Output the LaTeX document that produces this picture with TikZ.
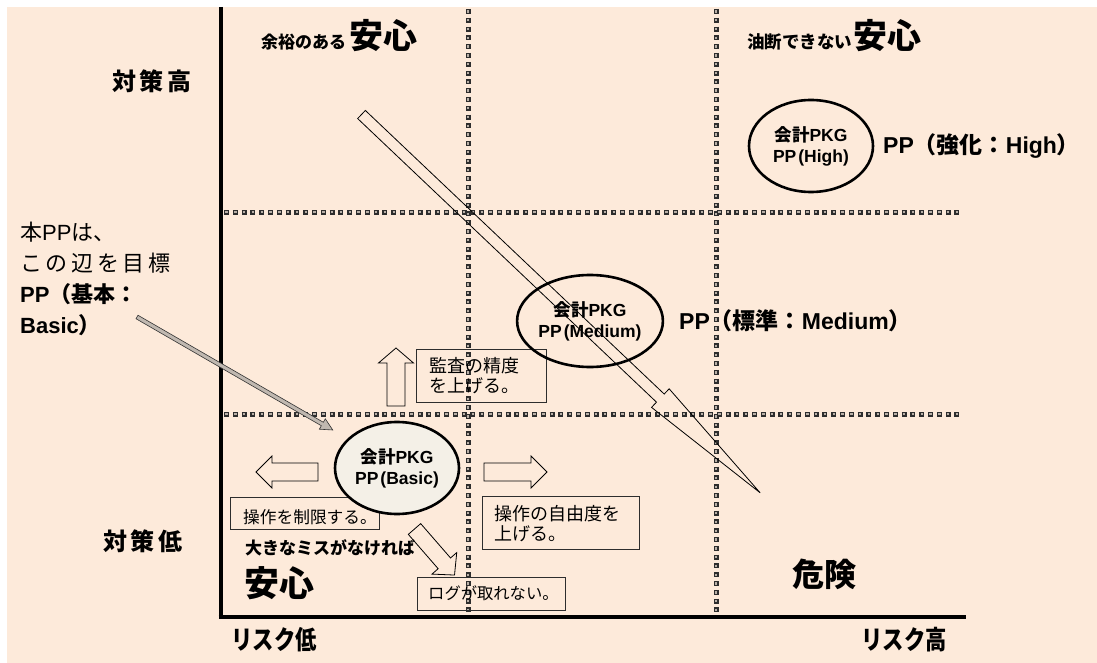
\documentclass[tikz,border=0pt]{standalone}
\usepackage{fontspec}
\setmainfont{Noto Sans CJK JP}
\newfontfamily\lat{Liberation Sans}
\usetikzlibrary{shapes.geometric}
\definecolor{bgpeach}{RGB}{253,234,218}
\definecolor{ellfill}{RGB}{244,240,231}
\definecolor{dotdark}{RGB}{45,45,45}
\definecolor{dotin}{RGB}{185,176,168}
\definecolor{arrgray}{RGB}{192,184,176}
\definecolor{framecol}{RGB}{45,45,45}
\pgfdeclarelayer{back}\pgfdeclarelayer{frames}\pgfsetlayers{back,frames,main}
\newcommand\fsz[1]{\fontsize{#1}{#1}\selectfont}
% block arrow: x y angle length headlen headhalf shafthalf style
\newcommand\blkarrow[8]{%
  \begin{scope}[shift={(#1,#2)},rotate=#3]
    \draw[#8] (0,-#7) -- ({#4-#5},-#7) -- ({#4-#5},-#6) -- (#4,0) -- ({#4-#5},#6) -- ({#4-#5},#7) -- (0,#7) -- cycle;
  \end{scope}}
\begin{document}
\begin{tikzpicture}[x=1pt,y=-1pt,
  gridout/.style={line width=5pt, dotdark, dash pattern=on 5pt off 3.8pt},
  gridin/.style={line width=2.4pt, dotin, dash pattern=on 2.4pt off 6.4pt, dash phase=7.5pt},
  axisline/.style={line width=4pt, black},
  ell/.style={ellipse, draw, line width=2.6pt, minimum width=124pt, minimum height=92pt, inner sep=0pt, align=center, font=\bfseries\fontsize{17.5}{21}\selectfont},
  frame/.style={draw=framecol, line width=0.9pt, inner sep=0pt},
  boxtxt/.style={anchor=west, inner sep=0pt, align=left},
  lbl/.style={inner sep=0pt, font=\bfseries},
  blockarr/.style={draw=black, line width=0.8pt, line join=miter},
]
\useasboundingbox (0,0) rectangle (1097,663);
\begin{pgfonlayer}{back}
  \fill[bgpeach] (7,7) rectangle (1097,663);
  % grid
  \foreach \gx in {468,716} {
    \draw[gridout] (\gx,9) -- (\gx,616);
    \draw[gridin] (\gx,9) -- (\gx,616);
  }
  \foreach \gy in {212,414} {
    \draw[gridout] (224,\gy) -- (962,\gy);
    \draw[gridin] (224,\gy) -- (962,\gy);
  }
\end{pgfonlayer}
% axes
\draw[axisline] (220.5,7) -- (220.5,619);
\draw[axisline] (218.5,617) -- (966,617);

% box frames
\begin{pgfonlayer}{frames}
  \node[frame, minimum width=130pt, minimum height=53pt] (f1) at (481,375.5) {};
  \node[frame, minimum width=149pt, minimum height=32pt] (f2) at (304.5,513) {};
  \node[frame, minimum width=157pt, minimum height=53pt] (f3) at (560.5,522.5) {};
  \node[frame, minimum width=148pt, minimum height=33pt] (f4) at (491,593.5) {};
\end{pgfonlayer}

% ellipses
\node[ell] (eh) at (811,146) {会計{\lat PKG}\\{\lat PP\kern2pt(High)}};
\node[ell] (em) at (590,321) {会計{\lat PKG}\\{\lat PP\kern2pt(Medium)}};
\node[ell, fill=ellfill] (eb) at (397,468) {会計{\lat PKG}\\{\lat PP\kern2pt(Basic)}};

% box texts
\node[boxtxt, font=\fontsize{18}{20}\selectfont] (t1) at (429,375.5) {監査の精度\\を上げる。};
\node[boxtxt, font=\fontsize{16.7}{20}\selectfont] (t2) at (243,517) {操作を制限する。};
\node[boxtxt, font=\fontsize{18}{20}\selectfont] (t3) at (494,524) {操作の自由度を\\上げる。};
\node[boxtxt, font=\fontsize{16.3}{20}\selectfont] (t4) at (428,593) {ログが取れない。};

% labels
\node[lbl, font=\bfseries\fsz{24}] (hi) at (152,81) {対\,策\,高};
\node[lbl, font=\bfseries\fsz{24}] (lo) at (143,541) {対\,策\,低};
\node[lbl, font=\bfseries\fsz{26}, xscale=0.82] (rl) at (274,640) {リスク低};
\node[lbl, font=\bfseries\fsz{26}, xscale=0.82] (rh) at (904,640) {リスク高};
\node[lbl, anchor=base west] (q1) at (261,49) {\fsz{17}余裕のある\kern3pt\fsz{34}安心};
\node[lbl, anchor=base west] (q2) at (747,49) {\fsz{17.5}油断できない\kern1pt\fsz{34}安心};
\node[lbl, anchor=west, font=\bfseries\fsz{23}] (pph) at (883,146) {{\lat PP}（強化：{\lat High}）};
\node[lbl, anchor=west, font=\bfseries\fsz{23}] (ppm) at (679,321) {{\lat PP}（標準：{\lat Medium}）};
\node[lbl, anchor=base west, font=\bfseries\fsz{17}] (q3) at (245,554.5) {大きなミスがなければ};
\node[lbl, anchor=base west, font=\bfseries\fsz{35}] (q4) at (244,596) {安心};
\node[lbl, font=\bfseries\fsz{32}] (q5) at (824,574) {危険};
\node[inner sep=0pt, anchor=north west, align=left, font=\fontsize{22}{31}\selectfont] (goal) at (20,222)
  {本{\lat PP}は、\\こ\,の\,辺\,を\,目\,標\\\textbf{{\lat PP}（基本：}\\\textbf{{\lat Basic}）}};

% block arrows
\blkarrow{137}{317}{-30}{226}{12}{6}{2}{draw=black!80, line width=0.6pt, fill=arrgray}
\blkarrow{361.5}{114.5}{-43.5}{549.6}{137.6}{12.8}{5.6}{blockarr}
\blkarrow{414.5}{529}{-49}{61}{15.5}{16.4}{8.2}{blockarr}
\blkarrow{396}{406}{90}{58}{15}{17.5}{9}{blockarr}
\blkarrow{318}{472}{180}{62}{16}{16}{9}{blockarr}
\blkarrow{484}{472}{0}{63}{16}{16}{9}{blockarr}
\end{tikzpicture}
\end{document}
